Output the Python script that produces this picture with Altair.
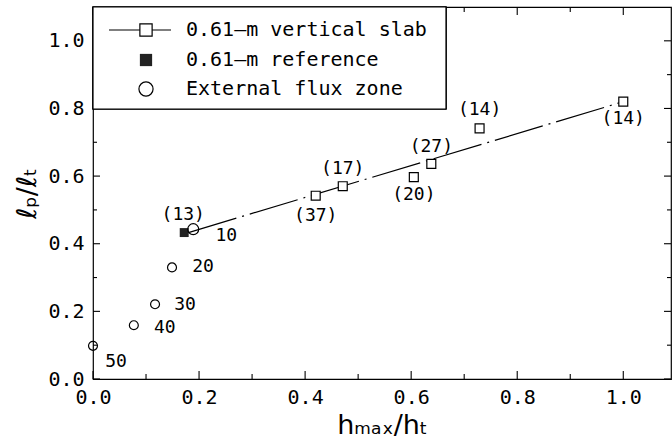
import altair as alt
import pandas as pd

# ---------------- data ----------------
slab_x = [0.420, 0.471, 0.605, 0.638, 0.729, 1.000]
slab_y = [0.542, 0.570, 0.597, 0.636, 0.741, 0.820]
slab_lbl = ["(37)", "(17)", "(20)", "(27)", "(14)", "(14)"]
slab_lbl_dx = [0, 0, 0, 0, 0, 0]          # label offsets in px
slab_lbl_dy = [20, -17, 18, -17, -18, 17]

ref_x = [0.172]
ref_y = [0.433]

flux_x = [0.189, 0.149, 0.117, 0.077, 0.000]
flux_y = [0.443, 0.330, 0.221, 0.159, 0.098]
flux_size = [120, 80, 80, 80, 80]
flux_lbl = ["10", "20", "30", "40", "50"]
flux_lbl_dx = [33, 31, 30, 31, 23]
flux_lbl_dy = [7, 0, 1, 3, 16]

extra_lbl = ["(13)"]
extra_x = [0.189]
extra_y = [0.443]
extra_dx = [-10]
extra_dy = [-14]

fit_x = [0.18, 1.00]
fit_y = [0.433, 0.820]

legend_labels = ["0.61\u2014m vertical slab", "0.61\u2014m reference", "External flux zone"]

x_major = [0.0, 0.2, 0.4, 0.6, 0.8, 1.0]
x_minor = [0.1, 0.3, 0.5, 0.7, 0.9]
y_major = [0.0, 0.2, 0.4, 0.6, 0.8, 1.0]
y_minor = [0.1, 0.3, 0.5, 0.7, 0.9]

# ---------------- layout ----------------
W, H = 578, 372
XMAX, YMAX = 1.09, 1.1
KX, KY = W / XMAX, H / YMAX
FONT = "DejaVu Sans Mono"

xs = alt.Scale(domain=[0, XMAX], nice=False, zero=False)
ys = alt.Scale(domain=[0, YMAX], nice=False, zero=False)
xaxis = alt.Axis(values=x_major, format=".1f", ticks=False, domain=False, grid=False,
                 labelFont=FONT, labelFontSize=20, labelPadding=8, labelColor="black",
                 labelFlush=False, labelOverlap=False,
                 title="h\u2098\u2090\u2093/h\u209c", titleFont="DejaVu Sans", titleFontSize=27,
                 titleFontWeight="normal", titlePadding=5, titleColor="black")
yaxis = alt.Axis(values=y_major, format=".1f", ticks=False, domain=False, grid=False,
                 labelFont=FONT, labelFontSize=20, labelPadding=9, labelColor="black",
                 labelFlush=False, labelOverlap=False,
                 title="\u2113\u209a/\u2113\u209c", titleFont="DejaVu Sans", titleFontSize=27,
                 titleFontWeight="normal", titlePadding=6, titleColor="black")


def X(f):
    return alt.X(f, type="quantitative", scale=xs, axis=xaxis)


def Y(f):
    return alt.Y(f, type="quantitative", scale=ys, axis=yaxis)


slab = pd.DataFrame({"x": slab_x, "y": slab_y, "t": slab_lbl,
                     "lx": [a + d / KX for a, d in zip(slab_x, slab_lbl_dx)],
                     "ly": [b - d / KY for b, d in zip(slab_y, slab_lbl_dy)]})
flux = pd.DataFrame({"x": flux_x, "y": flux_y, "s": flux_size, "t": flux_lbl,
                     "lx": [a + d / KX for a, d in zip(flux_x, flux_lbl_dx)],
                     "ly": [b - d / KY for b, d in zip(flux_y, flux_lbl_dy)]})
extra = pd.DataFrame({"t": extra_lbl,
                      "lx": [a + d / KX for a, d in zip(extra_x, extra_dx)],
                      "ly": [b - d / KY for b, d in zip(extra_y, extra_dy)]})
ref = pd.DataFrame({"x": ref_x, "y": ref_y})
fit = pd.DataFrame({"x": fit_x, "y": fit_y})

layers = []

# inward ticks on all four sides
def xticks(vals, length):
    d = pd.DataFrame({"v": vals})
    b = alt.Chart(d).mark_rule(color="black", strokeWidth=1.1)
    return [b.encode(x=X("v"), y=alt.value(H), y2=alt.value(H - length)),
            b.encode(x=X("v"), y=alt.value(0), y2=alt.value(length))]


def yticks(vals, length):
    d = pd.DataFrame({"v": vals})
    b = alt.Chart(d).mark_rule(color="black", strokeWidth=1.1)
    return [b.encode(y=Y("v"), x=alt.value(0), x2=alt.value(length)),
            b.encode(y=Y("v"), x=alt.value(W), x2=alt.value(W - length))]


layers += xticks(x_major, 8) + xticks(x_minor, 5) + yticks(y_major, 7) + yticks(y_minor, 4)

# fitted line
layers.append(alt.Chart(fit).mark_line(color="black", strokeWidth=1.2, strokeDash=[50, 6, 2, 6])
              .encode(x=X("x"), y=Y("y")))

# markers
layers.append(alt.Chart(slab).mark_point(shape="square", filled=True, fill="white", stroke="black",
                                         strokeWidth=1.2, size=80, opacity=1)
              .encode(x=X("x"), y=Y("y")))
layers.append(alt.Chart(ref).mark_point(shape="square", filled=True, color="#222", size=80, opacity=1)
              .encode(x=X("x"), y=Y("y")))
layers.append(alt.Chart(flux).mark_point(shape="circle", filled=False, color="black",
                                         strokeWidth=1.2, opacity=1)
              .encode(x=X("x"), y=Y("y"), size=alt.Size("s:Q", scale=None, legend=None)))

# point labels
txt = dict(font=FONT, fontSize=18, color="black", align="center", baseline="middle")
layers.append(alt.Chart(slab).mark_text(**txt).encode(x=X("lx"), y=Y("ly"), text="t:N"))
layers.append(alt.Chart(flux).mark_text(**txt).encode(x=X("lx"), y=Y("ly"), text="t:N"))
layers.append(alt.Chart(extra).mark_text(**txt).encode(x=X("lx"), y=Y("ly"), text="t:N"))

# legend box (manual)
leg = pd.DataFrame({"t": legend_labels, "py": [23, 53, 82]})
layers.append(alt.Chart(leg).mark_rect(fill="white", stroke="black", strokeWidth=1.2)
              .encode(x=alt.value(0), x2=alt.value(353), y=alt.value(0), y2=alt.value(102)))
layers.append(alt.Chart(leg.iloc[[0]]).mark_rule(color="black", strokeWidth=1.2)
              .encode(x=alt.value(16), x2=alt.value(78), y=alt.Y("py:Q", scale=None)))
layers.append(alt.Chart(leg.iloc[[0]]).mark_point(shape="square", filled=True, fill="white", stroke="black",
                                                  strokeWidth=1.2, size=150, opacity=1)
              .encode(x=alt.value(53), y=alt.Y("py:Q", scale=None)))
layers.append(alt.Chart(leg.iloc[[1]]).mark_point(shape="square", filled=True, color="#222", size=150, opacity=1)
              .encode(x=alt.value(53), y=alt.Y("py:Q", scale=None)))
layers.append(alt.Chart(leg.iloc[[2]]).mark_point(shape="circle", filled=False, color="black",
                                                  strokeWidth=1.2, size=200, opacity=1)
              .encode(x=alt.value(53), y=alt.Y("py:Q", scale=None)))
layers.append(alt.Chart(leg).mark_text(font=FONT, fontSize=20, color="black", align="left", baseline="middle")
              .encode(x=alt.value(93), y=alt.Y("py:Q", scale=None), text="t:N"))

chart = alt.layer(*layers).properties(
    width=W, height=H,
    autosize=alt.AutoSizeParams(type="none"),
    padding={"left": 93, "top": 7, "right": 1, "bottom": 63},
    background="white",
).configure_view(stroke="black", strokeWidth=1.2)

chart.save("out.html", embed_options={"renderer": "svg", "actions": False})
